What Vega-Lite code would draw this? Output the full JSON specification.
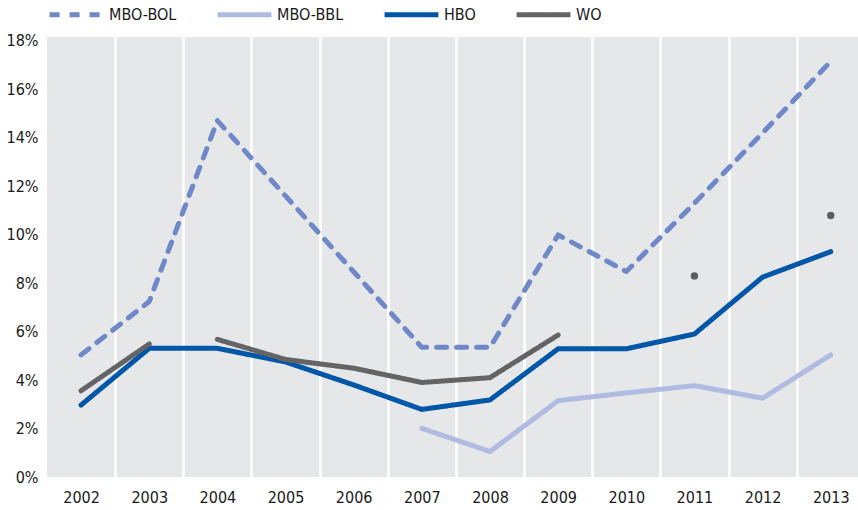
{
  "$schema": "https://vega.github.io/schema/vega-lite/v6.json",
  "width": 811,
  "height": 440,
  "autosize": {"type": "none"},
  "padding": {"left": 47, "top": 37, "right": 0, "bottom": 33},
  "config": {
    "view": {"fill": "#e6e7e9", "stroke": null},
    "font": "'DejaVu Sans Condensed', 'Liberation Sans', sans-serif"
  },
  "data": {
    "values": [
      {"series": "MBO-BOL", "seg": "a", "kind": "line", "year": 2002, "value": 5.04},
      {"series": "MBO-BOL", "seg": "a", "kind": "line", "year": 2003, "value": 7.24},
      {"series": "MBO-BOL", "seg": "a", "kind": "line", "year": 2004, "value": 14.71},
      {"series": "MBO-BOL", "seg": "a", "kind": "line", "year": 2005, "value": 11.6},
      {"series": "MBO-BOL", "seg": "a", "kind": "line", "year": 2006, "value": 8.47},
      {"series": "MBO-BOL", "seg": "a", "kind": "line", "year": 2007, "value": 5.35},
      {"series": "MBO-BOL", "seg": "a", "kind": "line", "year": 2008, "value": 5.35},
      {"series": "MBO-BOL", "seg": "a", "kind": "line", "year": 2009, "value": 9.99},
      {"series": "MBO-BOL", "seg": "a", "kind": "line", "year": 2010, "value": 8.48},
      {"series": "MBO-BOL", "seg": "a", "kind": "line", "year": 2011, "value": 11.3},
      {"series": "MBO-BOL", "seg": "a", "kind": "line", "year": 2012, "value": 14.2},
      {"series": "MBO-BOL", "seg": "a", "kind": "line", "year": 2013, "value": 17.15},
      {"series": "MBO-BBL", "seg": "a", "kind": "line", "year": 2007, "value": 2.01},
      {"series": "MBO-BBL", "seg": "a", "kind": "line", "year": 2008, "value": 1.05},
      {"series": "MBO-BBL", "seg": "a", "kind": "line", "year": 2009, "value": 3.15},
      {"series": "MBO-BBL", "seg": "a", "kind": "line", "year": 2010, "value": 3.47},
      {"series": "MBO-BBL", "seg": "a", "kind": "line", "year": 2011, "value": 3.77},
      {"series": "MBO-BBL", "seg": "a", "kind": "line", "year": 2012, "value": 3.25},
      {"series": "MBO-BBL", "seg": "a", "kind": "line", "year": 2013, "value": 5.04},
      {"series": "HBO", "seg": "a", "kind": "line", "year": 2002, "value": 2.97},
      {"series": "HBO", "seg": "a", "kind": "line", "year": 2003, "value": 5.31},
      {"series": "HBO", "seg": "a", "kind": "line", "year": 2004, "value": 5.31},
      {"series": "HBO", "seg": "a", "kind": "line", "year": 2005, "value": 4.75},
      {"series": "HBO", "seg": "a", "kind": "line", "year": 2006, "value": 3.8},
      {"series": "HBO", "seg": "a", "kind": "line", "year": 2007, "value": 2.79},
      {"series": "HBO", "seg": "a", "kind": "line", "year": 2008, "value": 3.18},
      {"series": "HBO", "seg": "a", "kind": "line", "year": 2009, "value": 5.29},
      {"series": "HBO", "seg": "a", "kind": "line", "year": 2010, "value": 5.29},
      {"series": "HBO", "seg": "a", "kind": "line", "year": 2011, "value": 5.9},
      {"series": "HBO", "seg": "a", "kind": "line", "year": 2012, "value": 8.25},
      {"series": "HBO", "seg": "a", "kind": "line", "year": 2013, "value": 9.3},
      {"series": "WO", "seg": "a", "kind": "line", "year": 2002, "value": 3.56},
      {"series": "WO", "seg": "a", "kind": "line", "year": 2003, "value": 5.49},
      {"series": "WO", "seg": "b", "kind": "line", "year": 2004, "value": 5.68},
      {"series": "WO", "seg": "b", "kind": "line", "year": 2005, "value": 4.85},
      {"series": "WO", "seg": "b", "kind": "line", "year": 2006, "value": 4.49},
      {"series": "WO", "seg": "b", "kind": "line", "year": 2007, "value": 3.9},
      {"series": "WO", "seg": "b", "kind": "line", "year": 2008, "value": 4.1},
      {"series": "WO", "seg": "b", "kind": "line", "year": 2009, "value": 5.86},
      {"series": "WO", "seg": "c", "kind": "dot", "year": 2011, "value": 8.3},
      {"series": "WO", "seg": "c", "kind": "dot", "year": 2013, "value": 10.79}
    ]
  },
  "encoding": {
    "x": {
      "field": "year",
      "type": "quantitative",
      "scale": {"domain": [2001.5, 2013.4], "nice": false, "zero": false},
      "axis": {
        "title": null,
        "values": [2002, 2002.5, 2003, 2003.5, 2004, 2004.5, 2005, 2005.5, 2006, 2006.5, 2007, 2007.5, 2008, 2008.5, 2009, 2009.5, 2010, 2010.5, 2011, 2011.5, 2012, 2012.5, 2013],
        "labelExpr": "datum.value % 1 === 0 ? format(datum.value, 'd') : ''",
        "ticks": false,
        "domain": false,
        "grid": true,
        "gridColor": "#ffffff",
        "gridWidth": 2.5,
        "gridOpacity": {"condition": {"test": "datum.value % 1 !== 0", "value": 1}, "value": 0},
        "labelFontSize": 16,
        "labelColor": "#1a1a1a",
        "labelPadding": 12,
        "labelFlush": false,
        "labelOverlap": false
      }
    },
    "y": {
      "field": "value",
      "type": "quantitative",
      "scale": {"domain": [0, 18.16], "nice": false},
      "axis": {
        "title": null,
        "values": [0, 2, 4, 6, 8, 10, 12, 14, 16, 18],
        "labelExpr": "datum.value + '%'",
        "ticks": false,
        "domain": false,
        "grid": false,
        "labelFontSize": 16,
        "labelColor": "#1a1a1a",
        "labelPadding": 9
      }
    }
  },
  "layer": [
    {
      "transform": [{"filter": "datum.kind === 'line'"}],
      "mark": {"type": "line", "strokeWidth": 5, "strokeCap": "round", "strokeJoin": "round"},
      "encoding": {
        "color": {
          "field": "series",
          "type": "nominal",
          "sort": ["MBO-BOL", "MBO-BBL", "HBO", "WO"],
          "scale": {"domain": ["MBO-BOL", "MBO-BBL", "HBO", "WO"], "range": ["#6e88c8", "#b0bbe2", "#0056a7", "#646464"]},
          "legend": {
            "title": null,
            "orient": "top",
            "direction": "horizontal",
            "symbolType": "stroke",
            "symbolSize": 2900,
            "symbolStrokeWidth": 5,
            "labelFontSize": 16,
            "labelColor": "#1a1a1a",
            "labelOffset": 3,
            "columnPadding": 30,
            "offset": 12,
            "padding": 0
          }
        },
        "strokeDash": {
          "field": "series",
          "type": "nominal",
          "sort": ["MBO-BOL", "MBO-BBL", "HBO", "WO"],
          "scale": {"domain": ["MBO-BOL", "MBO-BBL", "HBO", "WO"], "range": [[10, 10], [1, 0], [1, 0], [1, 0]]},
          "legend": {
            "title": null,
            "orient": "top",
            "direction": "horizontal",
            "symbolType": "stroke",
            "symbolSize": 2900,
            "symbolStrokeWidth": 5,
            "labelFontSize": 16,
            "labelColor": "#1a1a1a",
            "labelOffset": 3,
            "columnPadding": 30,
            "offset": 12,
            "padding": 0
          }
        },
        "detail": {"field": "seg", "type": "nominal"}
      }
    },
    {
      "transform": [{"filter": "datum.kind === 'dot'"}],
      "mark": {"type": "point", "filled": true, "size": 55, "color": "#5d5d5d", "opacity": 1}
    }
  ]
}
